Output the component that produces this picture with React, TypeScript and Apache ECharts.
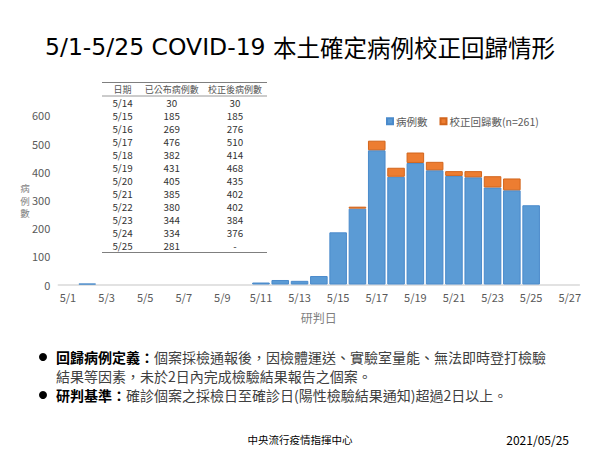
import React, { useEffect, useRef } from "react";
import * as echarts from "echarts";

const dates = [
  "5/1", "5/2", "5/3", "5/4", "5/5", "5/6", "5/7", "5/8", "5/9", "5/10",
  "5/11", "5/12", "5/13", "5/14", "5/15", "5/16", "5/17", "5/18", "5/19", "5/20",
  "5/21", "5/22", "5/23", "5/24", "5/25", "5/26", "5/27",
];
const cases = [0, 3, 0, 0, 0, 0, 0, 0, 0, 0, 7, 16, 13, 30, 185, 269, 476, 382, 431, 405, 385, 380, 344, 334, 281];
const corrections = [0, 0, 0, 0, 0, 0, 0, 0, 0, 0, 0, 0, 0, 0, 0, 7, 34, 32, 37, 30, 17, 22, 40, 42, 0];

const tableDates = ["5/14", "5/15", "5/16", "5/17", "5/18", "5/19", "5/20", "5/21", "5/22", "5/23", "5/24", "5/25"];
const tablePublished = ["30", "185", "269", "476", "382", "431", "405", "385", "380", "344", "334", "281"];
const tableCorrected = ["30", "185", "276", "510", "414", "468", "435", "402", "402", "384", "376", "-"];
const tableHeaders = ["日期", "已公布病例數", "校正後病例數"];
const yAxisNameChars = ["病", "例", "數"];

const FONT = "'Noto Sans CJK TC', 'Noto Sans', sans-serif";

export default function App() {
  const ref = useRef<HTMLDivElement>(null);
  useEffect(() => {
    document.body.style.margin = "0";
    if (!ref.current) return;
    const chart = echarts.init(ref.current, null, { renderer: "svg" });

    const colX = [122.5, 171.7, 235];
    const tableGraphics: any[] = [];
    const lineStyle = { stroke: "#7f7f7f", lineWidth: 1 };
    tableGraphics.push({ type: "line", shape: { x1: 102, y1: 82.5, x2: 267, y2: 82.5 }, style: lineStyle });
    tableGraphics.push({ type: "line", shape: { x1: 102, y1: 96, x2: 267, y2: 96 }, style: { stroke: "#7f7f7f", lineWidth: 0.8 } });
    tableGraphics.push({ type: "line", shape: { x1: 102, y1: 252.5, x2: 267, y2: 252.5 }, style: lineStyle });
    tableHeaders.forEach((h, c) => {
      tableGraphics.push({
        type: "text", x: colX[c], y: 89.3,
        style: { text: h, fontSize: 9, lineHeight: 10, fill: "#555", fontFamily: FONT, textAlign: "center", textVerticalAlign: "middle" },
      });
    });
    tableDates.forEach((d, i) => {
      const y = 102.5 + 13 * i;
      [d, tablePublished[i], tableCorrected[i]].forEach((t, c) => {
        tableGraphics.push({
          type: "text", x: colX[c], y,
          style: { text: t, fontSize: 9.8, lineHeight: 11, fill: "#333", fontFamily: FONT, textAlign: "center", textVerticalAlign: "middle" },
        });
      });
    });

    const yNameGraphics = yAxisNameChars.map((ch, i) => ({
      type: "text", x: 25, y: 188 + 12.5 * i,
      style: { text: ch, fontSize: 9.5, lineHeight: 10, fill: "#7f7f7f", fontFamily: FONT, textAlign: "center", textVerticalAlign: "middle" },
    }));

    const bulletRich = {
      b: { fontSize: 14, fontWeight: "bold", fill: "#000", fontFamily: FONT },
      n: { fontSize: 14, fill: "#404040", fontFamily: FONT },
    };

    chart.setOption({
      animation: false,
      title: {
        text: "{l|5/1-5/25 COVID-19 }{c|本土確定病例校正回歸情形}",
        left: "center",
        top: 30,
        textStyle: {
          fontWeight: "normal",
          rich: {
            l: { fontSize: 23.5, fontWeight: "normal", color: "#000", fontFamily: "'DejaVu Sans', sans-serif" },
            c: { fontSize: 23.5, fontWeight: "normal", color: "#000", fontFamily: FONT },
          },
        },
      },
      legend: {
        left: 381,
        top: 111,
        icon: "rect",
        itemWidth: 6,
        itemHeight: 6,
        itemGap: 12,
        textStyle: { fontSize: 10.5, color: "#595959", fontFamily: FONT, padding: [0, 0, 0, -2] },
        data: ["病例數", "校正回歸數(n=261)"],
      },
      grid: { left: 58.3, right: 20.6, top: 115.3, bottom: 165.5, containLabel: false },
      xAxis: {
        type: "category",
        data: dates,
        boundaryGap: true,
        name: "研判日",
        nameLocation: "middle",
        nameGap: 27,
        nameTextStyle: { fontSize: 12, color: "#7f7f7f", fontFamily: FONT },
        axisLine: { lineStyle: { color: "#d9d9d9", width: 1.5 } },
        axisTick: { interval: 1, length: 3, lineStyle: { color: "#d9d9d9" } },
        axisLabel: { interval: 1, fontSize: 11, color: "#595959", margin: 7, fontFamily: FONT },
      },
      yAxis: {
        type: "value",
        min: 0,
        max: 600,
        interval: 100,
        axisLine: { show: false },
        axisTick: { show: false },
        splitLine: { show: false },
        axisLabel: { fontSize: 11, color: "#595959", margin: 8, fontFamily: FONT },
      },
      series: [
        {
          name: "病例數",
          type: "bar",
          stack: "total",
          barCategoryGap: "9%",
          data: cases.map((v) => (v === 0 ? null : v)),
          itemStyle: { color: "#5b9bd5", borderColor: "#4a8acb", borderWidth: 1 },
        },
        {
          name: "校正回歸數(n=261)",
          type: "bar",
          stack: "total",
          barCategoryGap: "9%",
          data: corrections.map((v) => (v === 0 ? null : v)),
          itemStyle: { color: "#ed7d31", borderColor: "#d2651c", borderWidth: 1 },
        },
      ],
      graphic: [
        ...yNameGraphics,
        ...tableGraphics,
        { type: "circle", shape: { cx: 43, cy: 357, r: 4 }, style: { fill: "#000" } },
        { type: "circle", shape: { cx: 43, cy: 395, r: 4 }, style: { fill: "#000" } },
        {
          type: "text", x: 56, y: 357,
          style: {
            text: "{b|回歸病例定義：}{n|個案採檢通報後，因檢體運送、實驗室量能、無法即時登打檢驗}",
            rich: bulletRich, textVerticalAlign: "middle",
          },
        },
        {
          type: "text", x: 56, y: 376,
          style: {
            text: "{n|結果等因素，未於2日內完成檢驗結果報告之個案。}",
            rich: bulletRich, textVerticalAlign: "middle",
          },
        },
        {
          type: "text", x: 56, y: 395,
          style: {
            text: "{b|研判基準：}{n|確診個案之採檢日至確診日(陽性檢驗結果通知)超過2日以上。}",
            rich: bulletRich, textVerticalAlign: "middle",
          },
        },
        {
          type: "text", x: 300, y: 439,
          style: { text: "中央流行疫情指揮中心", fontSize: 10.5, fill: "#000", fontFamily: FONT, textAlign: "center", textVerticalAlign: "middle" },
        },
        {
          type: "text", x: 569, y: 439,
          style: { text: "2021/05/25", fontSize: 12, fill: "#000", fontFamily: FONT, textAlign: "right", textVerticalAlign: "middle" },
        },
      ],
    });
    return () => chart.dispose();
  }, []);
  return <div ref={ref} style={{ width: 600, height: 450 }} />;
}
